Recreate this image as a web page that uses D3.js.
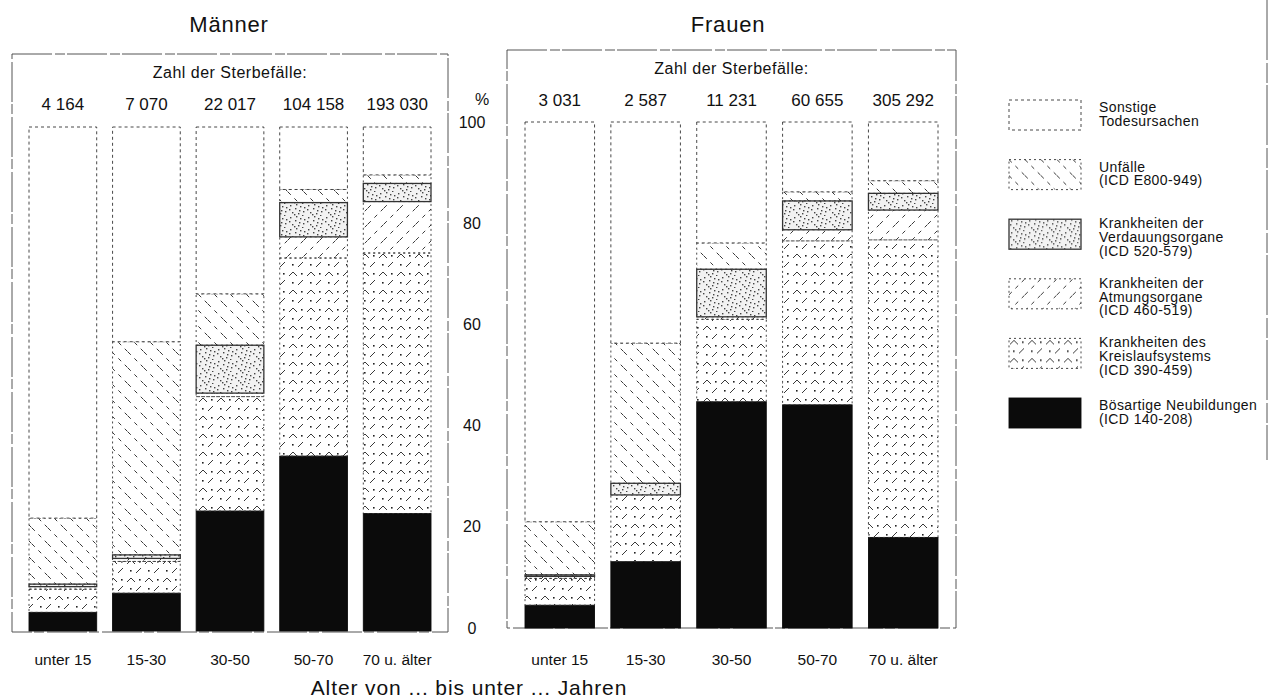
<!DOCTYPE html>
<html>
<head>
<meta charset="utf-8">
<script src="https://cdn.jsdelivr.net/npm/d3@7"></script>
<style>
body { margin: 0; background: #fff; }
text { font-family: "Liberation Sans", Arial, sans-serif; fill: #111; }
</style>
</head>
<body>
<div id="chart-area"></div>
<script>
// Data (percent of deaths per age group)
var ageGroups = ["unter 15", "15-30", "30-50", "50-70", "70 u. älter"];
var causeKeys = ["neu", "kreis", "atm", "verd", "unf", "sonst"];

var countsMen   = [4164, 7070, 22017, 104158, 193030];
var countsWomen = [3031, 2587, 11231, 60655, 305292];

var menNeu   = [3.7, 7.5, 23.8, 34.7, 23.3];
var menKreis = [4.6, 6.3, 22.7, 39.3, 51.7];
var menAtm   = [0.5, 0.6, 0.7, 4.2, 10.2];
var menVerd  = [0.5, 0.7, 9.5, 6.8, 3.6];
var menUnf   = [13.1, 42.3, 10.2, 2.6, 1.7];
var menSonst = [77.6, 42.6, 33.1, 12.4, 9.5];

var womenNeu   = [4.5, 13.1, 44.7, 44.1, 17.9];
var womenKreis = [5.3, 13.2, 16.3, 32.4, 58.8];
var womenAtm   = [0.4, 0.0, 0.5, 2.2, 5.9];
var womenVerd  = [0.3, 2.3, 9.4, 5.7, 3.3];
var womenUnf   = [10.5, 27.7, 5.2, 1.8, 2.5];
var womenSonst = [79.0, 43.7, 23.9, 13.8, 11.6];

var yTicks = [0, 20, 40, 60, 80, 100];

var legendKeys = ["sonst", "unf", "verd", "atm", "kreis", "neu"];
var legendLines = [
    ["Sonstige", "Todesursachen"],
    ["Unfälle", "(ICD E800-949)"],
    ["Krankheiten der", "Verdauungsorgane", "(ICD 520-579)"],
    ["Krankheiten der", "Atmungsorgane", "(ICD 460-519)"],
    ["Krankheiten des", "Kreislaufsystems", "(ICD 390-459)"],
    ["Bösartige Neubildungen", "(ICD 140-208)"]
];

function makeRows(series) {
    return ageGroups.map(function(age, i) {
        var row = { age: age };
        causeKeys.forEach(function(k, j) { row[k] = series[j][i]; });
        return row;
    });
}

var menRows = makeRows([menNeu, menKreis, menAtm, menVerd, menUnf, menSonst]);
var womenRows = makeRows([womenNeu, womenKreis, womenAtm, womenVerd, womenUnf, womenSonst]);

var width = 1271, height = 700;

var svg = d3.select("#chart-area")
    .append("svg")
        .attr("width", width)
        .attr("height", height);

// Patterns
var defs = svg.append("defs");

var pUnf = defs.append("pattern").attr("id", "p-unf")
    .attr("patternUnits", "userSpaceOnUse").attr("width", 16).attr("height", 16);
pUnf.append("path").attr("d", "M0,0 L16,16")
    .attr("stroke", "#222").attr("stroke-width", 0.9).attr("stroke-dasharray", "4,5");

var pAtm = defs.append("pattern").attr("id", "p-atm")
    .attr("patternUnits", "userSpaceOnUse").attr("width", 16).attr("height", 16);
pAtm.append("path").attr("d", "M0,16 L16,0")
    .attr("stroke", "#222").attr("stroke-width", 0.9).attr("stroke-dasharray", "4,5");

var pKreis = defs.append("pattern").attr("id", "p-kreis")
    .attr("patternUnits", "userSpaceOnUse").attr("width", 18).attr("height", 18);
pKreis.append("path").attr("d", "M1,6 L5,2 L9,6 M10,15 L15,10")
    .attr("stroke", "#222").attr("stroke-width", 0.9).attr("fill", "none");
pKreis.append("rect").attr("x", 13).attr("y", 3).attr("width", 1.6).attr("height", 1.6).attr("fill", "#222");
pKreis.append("rect").attr("x", 4).attr("y", 12).attr("width", 1.6).attr("height", 1.6).attr("fill", "#222");

var pVerd = defs.append("pattern").attr("id", "p-verd")
    .attr("patternUnits", "userSpaceOnUse").attr("width", 18).attr("height", 12);
pVerd.append("rect").attr("width", 18).attr("height", 12).attr("fill", "#f2f2f2");
[[2,1],[7,4],[12,2],[15,7],[4,8],[10,9],[1,5],[14,11],[8,0],[16,3],[6,10],[11,6]].forEach(function(p) {
    pVerd.append("rect").attr("x", p[0]).attr("y", p[1])
        .attr("width", 1.4).attr("height", 1.4).attr("fill", "#444");
});

var fills = {
    neu: "#0b0b0b",
    kreis: "url(#p-kreis)",
    atm: "url(#p-atm)",
    verd: "url(#p-verd)",
    unf: "url(#p-unf)",
    sonst: "#fff"
};
var dashes = {
    neu: null, kreis: "2,3", atm: "2,3", verd: null, unf: "2,3", sonst: "3,3"
};

var stack = d3.stack().keys(causeKeys);

function drawPanel(rows, counts, xRange, yRange, frame, title, titleX) {
    var x = d3.scaleBand()
        .domain(ageGroups)
        .range(xRange)
        .paddingInner(0.19)
        .paddingOuter(0);
    var y = d3.scaleLinear()
        .domain([0, 100])
        .range(yRange);

    // frame
    svg.append("rect")
        .attr("x", frame[0]).attr("y", frame[1])
        .attr("width", frame[2] - frame[0]).attr("height", frame[3] - frame[1])
        .attr("fill", "none")
        .attr("stroke", "#555")
        .attr("stroke-width", 1)
        .attr("stroke-dasharray", "40,3,10,2");

    svg.append("text")
        .attr("x", titleX).attr("y", 32)
        .attr("text-anchor", "middle")
        .attr("font-size", "22px")
        .style("letter-spacing", "0.8px")
        .text(title);

    svg.append("text")
        .attr("x", (xRange[0] + xRange[1]) / 2).attr("y", frame[1] + 24)
        .attr("text-anchor", "middle")
        .attr("font-size", "16px")
        .style("letter-spacing", "0.5px")
        .text("Zahl der Sterbefälle:");

    svg.selectAll(null)
        .data(counts)
        .enter().append("text")
            .attr("x", function(d, i) { return x(ageGroups[i]) + x.bandwidth() / 2; })
            .attr("y", frame[1] + 56)
            .attr("text-anchor", "middle")
            .attr("font-size", "17px")
            .text(function(d) { return d3.format(",")(d).replace(/,/g, " "); });

    var layers = svg.append("g").selectAll("g")
        .data(stack(rows))
        .enter().append("g");

    layers.selectAll("rect")
        .data(function(d) { return d.map(function(s) { return { key: d.key, s: s }; }); })
        .enter().append("rect")
            .filter(function(d) { return d.s[1] - d.s[0] > 0; })
            .attr("x", function(d) { return x(d.s.data.age); })
            .attr("y", function(d) { return y(d.s[1]); })
            .attr("width", x.bandwidth())
            .attr("height", function(d) { return y(d.s[0]) - y(d.s[1]); })
            .attr("fill", function(d) { return fills[d.key]; })
            .attr("stroke", function(d) { return d.key === "neu" ? "#0b0b0b" : "#333"; })
            .attr("stroke-width", function(d) { return d.key === "verd" ? 1.3 : 0.9; })
            .attr("stroke-dasharray", function(d) { return dashes[d.key]; });

    // age labels
    var xAxis = d3.axisBottom(x).tickSize(0).tickPadding(0);
    var ax = svg.append("g")
        .attr("transform", "translate(0,654)")
        .call(xAxis);
    ax.select(".domain").remove();
    ax.selectAll("text")
        .attr("font-size", "15.5px")
        .attr("font-family", "'Liberation Sans', Arial, sans-serif")
        .attr("dy", "0.7em");

    return y;
}

drawPanel(menRows, countsMen, [29, 431], [631, 127], [12, 54, 448, 632], "Männer", 229);
var yR = drawPanel(womenRows, countsWomen, [525, 938], [628, 122], [507, 50, 956, 628], "Frauen", 728);

// Y axis between panels
var yAxis = d3.axisRight(yR).tickValues(yTicks).tickSize(0).tickPadding(0);
var yg = svg.append("g")
    .attr("transform", "translate(472,0)")
    .call(yAxis);
yg.select(".domain").remove();
yg.selectAll("text")
    .attr("text-anchor", "middle")
    .attr("font-size", "16px")
    .attr("font-family", "'Liberation Sans', Arial, sans-serif");

svg.append("text")
    .attr("x", 482).attr("y", 105)
    .attr("text-anchor", "middle")
    .attr("font-size", "16px")
    .text("%");

svg.append("text")
    .attr("x", 469).attr("y", 695)
    .attr("text-anchor", "middle")
    .attr("font-size", "21px")
    .style("letter-spacing", "0.9px")
    .text("Alter von ... bis unter ... Jahren");

// Legend
var legend = svg.append("g")
    .attr("transform", "translate(1009,100)");

legendKeys.forEach(function(key, i) {
    var row = legend.append("g")
        .attr("transform", "translate(0," + (i * 59.6) + ")");
    row.append("rect")
        .attr("width", 72)
        .attr("height", 30)
        .attr("fill", fills[key])
        .attr("stroke", key === "neu" ? "#0b0b0b" : "#333")
        .attr("stroke-width", key === "verd" ? 1.3 : 0.9)
        .attr("stroke-dasharray", dashes[key]);
    var lines = legendLines[i];
    var startY = lines.length === 3 ? 9 : 12;
    lines.forEach(function(t, j) {
        row.append("text")
            .attr("x", 90)
            .attr("y", startY + j * 13.8)
            .attr("font-size", "14px")
            .style("letter-spacing", "0.4px")
            .text(t);
    });
});

// right border line
svg.append("line")
    .attr("x1", 1267).attr("x2", 1267)
    .attr("y1", 0).attr("y2", 460)
    .attr("stroke", "#555")
    .attr("stroke-dasharray", "60,3,20,2");
</script>
</body>
</html>
